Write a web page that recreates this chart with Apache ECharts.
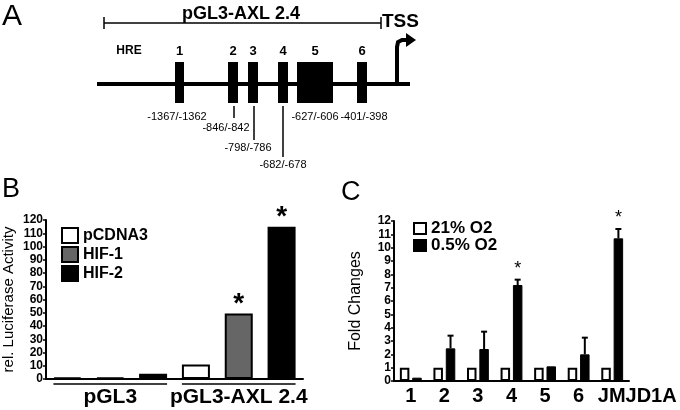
<!DOCTYPE html>
<html>
<head>
<meta charset="utf-8">
<script src="https://cdn.jsdelivr.net/npm/echarts@6/dist/echarts.min.js"></script>
<style>
  html, body { margin: 0; padding: 0; background: #fff; }
  #chart { width: 680px; height: 410px; }
</style>
</head>
<body>
<div id="chart"></div>
<script>
// panel A
const hreNames = ['1', '2', '3', '4', '5', '6']
const hreSites = ['-1367/-1362', '-846/-842', '-798/-786', '-682/-678', '-627/-606', '-401/-398']

// panel B
const bGroups = ['pGL3', 'pGL3-AXL 2.4']
const bNames = ['pCDNA3', 'HIF-1', 'HIF-2']
const bPcdna3 = [1, 11]
const bHif1 = [1, 49.5]
const bHif2 = [4, 115]
const bSig = [[false, false], [false, true], [false, true]]

// panel C
const cCategories = ['1', '2', '3', '4', '5', '6', 'JMJD1A']
const cNames = ['21% O2', '0.5% O2']
const cNormoxia = [1, 1, 1, 1, 1, 1, 1]
const cHypoxia = [0.25, 2.45, 2.4, 7.2, 1.1, 2.0, 10.7]
const cHypoxiaErr = [0, 0.95, 1.3, 0.4, 0, 1.25, 0.7]
const cSig = [false, false, false, true, false, false, true]

const FONT = '"Liberation Sans", Arial, sans-serif'
const bColors = ['#fff', '#666', '#000']
const C_BAR = 9.5
const C_GAP = 0.3

// 6 slots: group x transfection
const bSlots = []
bGroups.forEach((g, gi) => bNames.forEach((n, si) => bSlots.push(g + ' ' + n)))
const bValues = [bPcdna3, bHif1, bHif2]
const bStars = []
bValues.forEach((vals, si) => vals.forEach((v, gi) => {
  if (bSig[si][gi]) bStars.push([gi * 3 + si, v])
}))

const chart = echarts.init(document.getElementById('chart'))

// schematic of the promoter (panel A)
const boxes = [[175, 9], [228, 10], [248, 10], [278, 10], [297, 36], [357, 10]]
const siteLabels = [[177, 117], [226, 128], [248, 148], [283, 165], [315, 117], [364, 117]]
const siteTicks = [null, [234, 118], [254, 140], [283, 157], null, null]
const graphic = []
const txt = (x, y, text, size, weight, align) => ({
  type: 'text', x: x, y: y,
  style: { text: text, fill: '#000', font: (weight || 'normal') + ' ' + size + 'px ' + FONT, textAlign: align || 'center', textVerticalAlign: 'middle' }
})
const seg = (x1, y1, x2, y2, w) => ({
  type: 'line', shape: { x1: x1, y1: y1, x2: x2, y2: y2 }, style: { stroke: '#000', lineWidth: w }
})
graphic.push(txt(2, 17, 'A', 30, 'normal', 'left'))
graphic.push(txt(2, 190, 'B', 27, 'normal', 'left'))
graphic.push(txt(341, 193, 'C', 27, 'normal', 'left'))
graphic.push(seg(104, 23, 381, 23, 1.5), seg(104, 17, 104, 29, 1.5), seg(381, 17, 381, 29, 1.5))
graphic.push(txt(241, 14, 'pGL3-AXL 2.4', 18, 'bold'))
graphic.push(txt(382, 22, 'TSS', 19, 'bold', 'left'))
graphic.push(seg(97, 84, 410, 84, 4))
graphic.push(txt(129, 51, 'HRE', 12, 'bold'))
hreNames.forEach((n, i) => {
  const b = boxes[i]
  graphic.push({ type: 'rect', shape: { x: b[0], y: 62, width: b[1], height: 41 }, style: { fill: '#000' } })
  graphic.push(txt(b[0] + b[1] / 2, 51, n, 13, 'bold'))
  graphic.push(txt(siteLabels[i][0], siteLabels[i][1], hreSites[i], 11))
  if (siteTicks[i]) graphic.push(seg(siteTicks[i][0], 106, siteTicks[i][0], siteTicks[i][1], 1.5))
})
graphic.push({
  type: 'polyline', shape: { points: [[397, 84], [397, 47], [398, 42], [402, 40], [408, 40]] },
  style: { stroke: '#000', lineWidth: 4, fill: null }
})
graphic.push({ type: 'polygon', shape: { points: [[406, 33], [416, 40], [406, 47]] }, style: { fill: '#000' } })

const axisLabelStyle = { color: '#000', fontFamily: FONT, fontWeight: 'bold', fontSize: 12, margin: 3 }

chart.setOption({
  animation: false,
  textStyle: { fontFamily: FONT },
  graphic: graphic,
  legend: [
    {
      data: bNames, orient: 'vertical', left: 61, top: 227, padding: 0,
      itemWidth: 16, itemHeight: 15, itemGap: 2, icon: 'rect',
      textStyle: { color: '#000', fontSize: 16, fontWeight: 'bold', fontFamily: FONT }
    },
    {
      data: cNames, orient: 'vertical', left: 413, top: 220, padding: 0,
      itemWidth: 12, itemHeight: 11, itemGap: 0, icon: 'rect',
      textStyle: { color: '#000', fontSize: 17, fontWeight: 'bold', fontFamily: FONT, lineHeight: 16 }
    }
  ],
  grid: [
    { left: 46, top: 220, width: 257, height: 159 },
    { left: 394, top: 221, width: 235, height: 160 }
  ],
  xAxis: [
    {
      type: 'category', gridIndex: 0, data: bSlots,
      axisLine: { lineStyle: { color: '#000', width: 2 } },
      axisTick: { show: false }, axisLabel: { show: false }
    },
    {
      type: 'category', gridIndex: 0, data: bGroups, position: 'bottom',
      axisLine: { show: false }, axisTick: { show: false },
      axisLabel: { color: '#000', fontFamily: FONT, fontWeight: 'bold', fontSize: 21, margin: 8, interval: 0, hideOverlap: false }
    },
    {
      type: 'category', gridIndex: 1,
      data: cCategories.map(c => c === 'JMJD1A' ? { value: c, textStyle: { padding: [0, 0, 0, 50] } } : c),
      axisLine: { lineStyle: { color: '#000', width: 2 } },
      axisTick: { show: false },
      axisLabel: { color: '#000', fontFamily: FONT, fontWeight: 'bold', fontSize: 20, margin: 5, interval: 0 }
    }
  ],
  yAxis: [
    {
      type: 'value', gridIndex: 0, min: 0, max: 120, interval: 10,
      name: 'rel. Luciferase Activity', nameLocation: 'middle', nameGap: 30,
      nameTextStyle: { color: '#000', fontSize: 15, fontFamily: FONT },
      axisLine: { show: true, lineStyle: { color: '#000', width: 2 } },
      axisTick: { show: true, length: 3, lineStyle: { color: '#000', width: 1.5 } },
      axisLabel: axisLabelStyle, splitLine: { show: false }
    },
    {
      type: 'value', gridIndex: 1, min: 0, max: 12, interval: 1,
      name: 'Fold Changes', nameLocation: 'middle', nameGap: 30,
      nameTextStyle: { color: '#000', fontSize: 16, fontFamily: FONT },
      axisLine: { show: true, lineStyle: { color: '#000', width: 2 } },
      axisTick: { show: true, length: 3, lineStyle: { color: '#000', width: 1.5 } },
      axisLabel: axisLabelStyle, splitLine: { show: false }
    }
  ],
  series: [
    ...bNames.map((n, si) => ({
      name: n, type: 'bar', xAxisIndex: 0, yAxisIndex: 0,
      barWidth: 28, barGap: '-100%',
      itemStyle: { color: bColors[si], borderColor: '#000', borderWidth: 2 },
      data: bSlots.map((s, k) => (k % 3 === si ? bValues[si][Math.floor(k / 3)] : '-'))
    })),
    {
      type: 'custom', xAxisIndex: 0, yAxisIndex: 0,
      data: [[0, 2], [3, 5]],
      renderItem: (params, api) => {
        const a = api.coord([api.value(0), 0])
        const b = api.coord([api.value(1), 0])
        return { type: 'line', shape: { x1: a[0] - 14, y1: a[1] + 5, x2: b[0] + 14, y2: b[1] + 5 }, style: { stroke: '#000', lineWidth: 1.5 } }
      }
    },
    {
      type: 'custom', xAxisIndex: 0, yAxisIndex: 0, data: bStars,
      renderItem: (params, api) => {
        const p = api.coord([api.value(0), api.value(1)])
        return { type: 'text', x: p[0], y: p[1] - 23, style: { text: '*', fill: '#000', font: 'bold 28px ' + FONT, textAlign: 'center', textVerticalAlign: 'top' } }
      }
    },
    {
      name: cNames[0], type: 'bar', xAxisIndex: 2, yAxisIndex: 1,
      barWidth: C_BAR, barGap: (C_GAP * 100) + '%',
      itemStyle: { color: '#fff', borderColor: '#000', borderWidth: 2 },
      data: cNormoxia
    },
    {
      name: cNames[1], type: 'bar', xAxisIndex: 2, yAxisIndex: 1,
      barWidth: C_BAR, barGap: (C_GAP * 100) + '%',
      itemStyle: { color: '#000', borderColor: '#000', borderWidth: 1 },
      data: cHypoxia
    },
    {
      type: 'custom', xAxisIndex: 2, yAxisIndex: 1,
      data: cHypoxia.map((v, i) => [i, v, cHypoxiaErr[i], cSig[i] ? 1 : 0]),
      renderItem: (params, api) => {
        const i = api.value(0), v = api.value(1), e = api.value(2)
        const p = api.coord([i, v])
        const q = api.coord([i, v + e])
        const x = p[0] + (C_BAR + C_BAR * C_GAP) / 2
        const children = []
        if (e > 0) {
          children.push({ type: 'line', shape: { x1: x, y1: p[1], x2: x, y2: q[1] }, style: { stroke: '#000', lineWidth: 2 } })
          children.push({ type: 'line', shape: { x1: x - 3, y1: q[1], x2: x + 3, y2: q[1] }, style: { stroke: '#000', lineWidth: 2 } })
        }
        if (api.value(3)) {
          children.push({ type: 'text', x: x, y: q[1] - 20, style: { text: '*', fill: '#000', font: '18px ' + FONT, textAlign: 'center', textVerticalAlign: 'top' } })
        }
        return { type: 'group', children: children }
      }
    }
  ]
})
</script>
</body>
</html>
